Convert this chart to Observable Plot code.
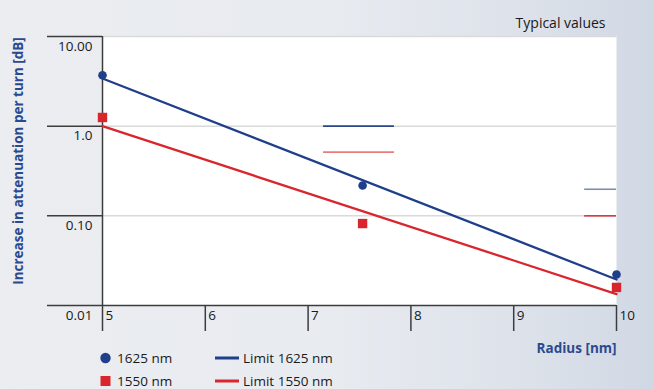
<!DOCTYPE html>
<html><head><meta charset="utf-8">
<script src="https://cdn.jsdelivr.net/npm/d3@7"></script>
<script src="https://cdn.jsdelivr.net/npm/@observablehq/plot@0.6"></script>
<style>
html,body{margin:0;padding:0;}
body{width:654px;height:389px;overflow:hidden;background:linear-gradient(to right,#ebedf1 0%,#e8ebf0 50%,#dde2ea 80%,#d0d8e4 100%);font-family:"Open Sans",sans-serif;}
</style></head><body><div id="chart"></div>
<script>
// ---- data ----
const radius1625 = [5, 7.53, 10];
const atten1625 = [3.7, 0.218, 0.0222];
const radius1550 = [5, 7.53, 10];
const atten1550 = [1.25, 0.082, 0.0159];
const limitRadius = [5, 10];
const limit1625 = [3.4, 0.0195];
const limit1550 = [1.0, 0.0134];
const refStart = [7.15, 7.15, 9.69, 9.69];
const refEnd = [7.84, 7.84, 10, 10];
const refValue = [1.0, 0.513, 0.198, 0.1];
const yTicks = [10, 1, 0.1, 0.01];
const yTickLabels = ["10.00", "1.0", "0.10", "0.01"];
const xTicks = [5, 6, 7, 8, 9, 10];
const legendLabels = ["1625 nm", "1550 nm", "Limit 1625 nm", "Limit 1550 nm"];

// ---- styles ----
const BLUE = "#1f3f8a", RED = "#d9262c", AXIS = "#3c3c3c", LABEL = "#2b4a8e";
const refColors = ["#2a4888", "#e87b7b", "#7b8eb6", "#d9363a"];

const pts1625 = radius1625.map((x, i) => ({x, y: atten1625[i]}));
const pts1550 = radius1550.map((x, i) => ({x, y: atten1550[i]}));
const lim1625 = limitRadius.map((x, i) => ({x, y: limit1625[i]}));
const lim1550 = limitRadius.map((x, i) => ({x, y: limit1550[i]}));
const refs = refValue.map((v, i) => ({x1: refStart[i], x2: refEnd[i], y: v, c: refColors[i]}));

const plot = Plot.plot({
  width: 654, height: 389,
  marginLeft: 102, marginRight: 38, marginTop: 36, marginBottom: 84,
  style: {background: "transparent", fontFamily: "'Open Sans', sans-serif", fontSize: "13px", color: "#222"},
  x: {domain: [5, 10], axis: null},
  y: {type: "log", domain: [0.01, 10], axis: null},
  marks: [
    Plot.frame({fill: "white", stroke: null}),
    Plot.ruleY([10, 1, 0.1], {stroke: "#dadada", strokeWidth: 1.5}),
    Plot.axisY({ticks: yTicks, tickSize: 55, tickFormat: () => "", label: null, stroke: AXIS, strokeWidth: 1.5}),
    Plot.text(yTicks, {y: d => d, text: (d, i) => yTickLabels[i], frameAnchor: "left", dx: -10, dy: 10, textAnchor: "end", fontSize: 13.5, fill: "#1a1a1a"}),
    Plot.ruleY([0.01], {stroke: AXIS, strokeWidth: 1.5}),
    Plot.ruleX([5], {stroke: AXIS, strokeWidth: 1.5}),
    Plot.axisX({ticks: xTicks, tickSize: 26, tickFormat: () => "", label: null, stroke: AXIS, strokeWidth: 1.5}),
    Plot.text(xTicks, {x: d => d, text: d => String(d), frameAnchor: "bottom", dy: 14, dx: 3, textAnchor: "start", fontSize: 13.5, fill: "#1a1a1a"}),
    Plot.ruleY(refs, {y: "y", x1: "x1", x2: "x2", stroke: d => d.c, strokeWidth: 1.6}),
    Plot.line(lim1625, {x: "x", y: "y", stroke: BLUE, strokeWidth: 2.3}),
    Plot.line(lim1550, {x: "x", y: "y", stroke: RED, strokeWidth: 2.3}),
    Plot.dot(pts1625, {x: "x", y: "y", r: 4.3, fill: BLUE, stroke: null}),
    Plot.dot(pts1550, {x: "x", y: "y", symbol: "square", r: 5.3, fill: RED, stroke: null}),
    Plot.text(["Typical values"], {frameAnchor: "top-right", dx: -11, dy: -18, textAnchor: "end", fontSize: 14, fill: "#1a1a1a"}),
    Plot.text(["Radius [nm]"], {frameAnchor: "bottom-right", dy: 47, textAnchor: "end", fontSize: 13.5, fontWeight: "bold", fill: LABEL}),
    Plot.text(["Increase in attenuation per turn [dB]"], {frameAnchor: "left", dx: -84, dy: -10, rotate: -90, textAnchor: "middle", fontSize: 13.5, fontWeight: "bold", fill: LABEL})
  ]
});
document.getElementById("chart").appendChild(plot);

// legend
const svg = d3.select(plot);
const lg = svg.append("g").attr("font-family", "'Open Sans', sans-serif").attr("font-size", 13.5).attr("fill", "#1a1a1a").attr("text-anchor", "start");
lg.append("circle").attr("cx", 105.5).attr("cy", 358).attr("r", 5.2).attr("fill", BLUE);
lg.append("rect").attr("x", 100.5).attr("y", 376).attr("width", 10).attr("height", 10).attr("fill", RED);
lg.append("line").attr("x1", 215).attr("x2", 239).attr("y1", 358).attr("y2", 358).attr("stroke", BLUE).attr("stroke-width", 3);
lg.append("line").attr("x1", 215).attr("x2", 239).attr("y1", 381).attr("y2", 381).attr("stroke", RED).attr("stroke-width", 3);
[[117, 358, 0], [117, 381, 1], [243, 358, 2], [243, 381, 3]].forEach(([x, y, i]) => {
  lg.append("text").attr("x", x).attr("y", y).attr("dy", "0.35em").attr("text-anchor", "start").text(legendLabels[i]);
});
</script>
</body></html>
